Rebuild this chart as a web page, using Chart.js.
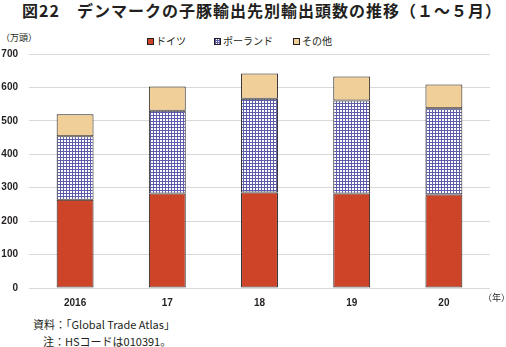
<!DOCTYPE html>
<html>
<head>
<meta charset="utf-8">
<script src="https://cdn.jsdelivr.net/npm/chart.js@4/dist/chart.umd.min.js"></script>
<style>
  body { margin: 0; width: 506px; height: 347px; overflow: hidden; background: #fff;
         font-family: "Noto Sans CJK JP", sans-serif; color: #231f20; position: relative; }
  .abs { position: absolute; white-space: nowrap; }
  #title { left: 22px; top: 0px; font-size: 16px; font-weight: bold; line-height: 20px; letter-spacing: 1px; }
  #unit { left: 1px; top: 32px; font-size: 9px; line-height: 12px; }
  #year { left: 483px; top: 292px; font-size: 9px; line-height: 12px; }
  #src { left: 33px; top: 317px; font-size: 11px; line-height: 14px; }
  #note { left: 43px; top: 334px; font-size: 11px; line-height: 14px; }
  #legend { left: 0; top: 34px; font-size: 10px; line-height: 14px; }
  .item { position: absolute; }
  .box { display: inline-block; width: 7px; height: 7px; border: 1px solid #231f20;
         box-sizing: border-box; margin-right: 2px; vertical-align: 0px; }
  #wrap { position: absolute; left: 0; top: 37px; width: 506px; height: 272px; }
</style>
</head>
<body>
<div id="title" class="abs">図22　デンマークの子豚輸出先別輸出頭数の推移（１～５月）</div>
<div id="unit" class="abs">（万頭）</div>
<div id="legend" class="abs"></div>
<div id="wrap"><canvas id="myChart"></canvas></div>
<div id="year" class="abs">（年）</div>
<div id="src" class="abs">資料：「Global Trade Atlas」</div>
<div id="note" class="abs">注：HSコードは010391。</div>
<script>
const years = ['2016', '17', '18', '19', '20'];
const germany = [264, 283, 286, 283, 280];
const poland = [190, 247, 280, 278, 258];
const others = [66, 73, 76, 72, 71];
const yTicks = [0, 100, 200, 300, 400, 500, 600, 700];

// blue grid hatch used for ポーランド
function gridPattern() {
  const c = document.createElement('canvas');
  c.width = 3; c.height = 3;
  const g = c.getContext('2d');
  g.fillStyle = '#ffffff';
  g.fillRect(0, 0, 3, 3);
  g.fillStyle = '#5c5ca8';
  g.fillRect(0, 0, 3, 1);
  g.fillRect(0, 0, 1, 3);
  return g.createPattern(c, 'repeat');
}

const red = '#cd4429';
const tan = '#f1cf98';

const ctx = document.getElementById('myChart');
const config = {
  type: 'bar',
  data: {
    labels: years,
    datasets: [
      { label: 'ドイツ', data: germany, backgroundColor: red },
      { label: 'ポーランド', data: poland, backgroundColor: gridPattern() },
      { label: 'その他', data: others, backgroundColor: tan }
    ].map(d => Object.assign(d, {
      borderColor: '#231f20', borderWidth: 1, borderSkipped: false,
      barPercentage: 0.4, categoryPercentage: 1
    }))
  },
  options: {
    responsive: true,
    maintainAspectRatio: false,
    animation: false,
    layout: { padding: { top: 0, right: 16, left: 0, bottom: 0 } },
    plugins: { legend: { display: false }, tooltip: { enabled: false } },
    scales: {
      x: {
        stacked: true,
        grid: { display: false, drawTicks: false },
        border: { display: false },
        afterFit: s => { s.height = 21; },
        ticks: { color: '#231f20', padding: 9,
                 font: { family: 'Liberation Sans', size: 10, weight: 'bold' } }
      },
      y: {
        stacked: true,
        min: 0, max: 700,
        afterBuildTicks: s => { s.ticks = yTicks.map(v => ({ value: v })); },
        afterFit: s => { s.width = 29; },
        grid: { color: '#d9d9d9', drawTicks: false },
        border: { display: false },
        ticks: { color: '#231f20', padding: 11,
                 font: { family: 'Liberation Sans', size: 10, weight: 'bold' } }
      }
    }
  }
};
new Chart(ctx, config);

// legend built from the datasets
const legendX = [147, 214, 293];
const legend = document.getElementById('legend');
config.data.datasets.forEach((d, i) => {
  const it = document.createElement('span');
  it.className = 'item';
  it.style.left = legendX[i] + 'px';
  const b = document.createElement('span');
  b.className = 'box';
  if (i === 1) {
    b.style.backgroundImage = 'linear-gradient(90deg,#5c5ca8 1px,transparent 1px),linear-gradient(0deg,#5c5ca8 1px,transparent 1px)';
    b.style.backgroundSize = '2px 2px';
    b.style.backgroundColor = '#fff';
  } else {
    b.style.background = d.backgroundColor;
  }
  it.appendChild(b);
  it.appendChild(document.createTextNode(d.label));
  legend.appendChild(it);
});
</script>
</body>
</html>
